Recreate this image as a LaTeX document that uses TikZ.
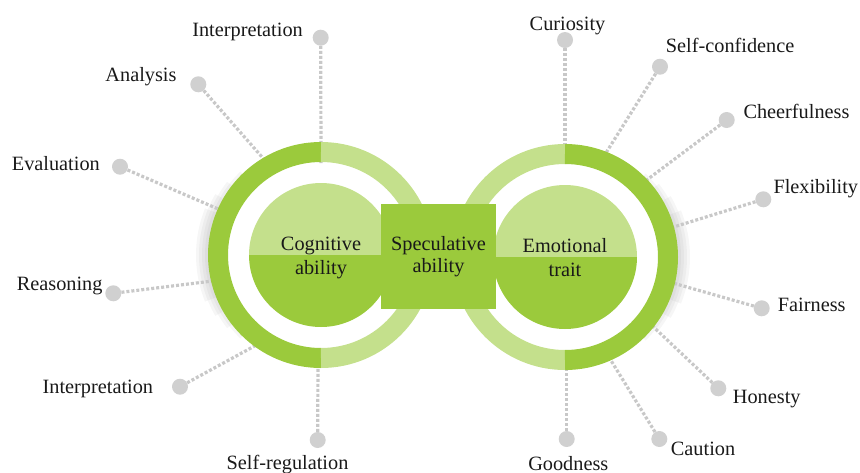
\documentclass[tikz,border=0pt]{standalone}
\usepackage{fontspec}
\setmainfont{Liberation Serif}
\definecolor{dark}{RGB}{155,202,60}
\definecolor{light}{RGB}{196,224,140}
\definecolor{dotgray}{RGB}{208,208,208}
\definecolor{linegray}{RGB}{200,200,200}
\definecolor{txt}{RGB}{25,25,25}
\begin{document}
\begin{tikzpicture}[x=1pt,y=-1pt,
  lbl/.style={inner sep=0pt, font=\fontsize{20.3pt}{24.4pt}\selectfont, text=txt},
  dot/.style={circle, fill=dotgray, minimum size=16pt, inner sep=0pt},
  spoke/.style={draw=linegray, line width=3.2pt, dash pattern=on 3pt off 2pt},
  halo/.style={black, opacity=0.035}]
\useasboundingbox (0,0) rectangle (860,472);

\coordinate (L) at (321,255);
\coordinate (R) at (565,257);

% soft shadows on the outer sides of the two rings
\foreach \w/\a in {6/46,12/38,18/30,24/22}{
  \draw[halo, line width=\w pt] ([shift={(L)}]180-\a:113) arc[start angle=180-\a, end angle=180+\a, radius=113];
  \draw[halo, line width=\w pt] ([shift={(R)}]-\a:113) arc[start angle=-\a, end angle=\a, radius=113];
}

% end points of the spokes (hidden under the rings)
\coordinate (eA1) at (321,163);
\coordinate (eA2) at (268.3,164.2);
\coordinate (eA3) at (225.9,212.3);
\coordinate (eA4) at (216.6,280.5);
\coordinate (eA5) at (262.1,341.9);
\coordinate (eA6) at (318,352);
\coordinate (eB1) at (565,155);
\coordinate (eB2) at (601.4,160.2);
\coordinate (eB3) at (638.7,186);
\coordinate (eB4) at (667.1,229);
\coordinate (eB5) at (670.4,282.3);
\coordinate (eB6) at (649.4,323.1);
\coordinate (eB7) at (606.5,353.2);
\coordinate (eB8) at (566.7,360);

% dots
\node[dot] (dA1) at (320.7,37.7) {};
\node[dot] (dA2) at (198.3,84.3) {};
\node[dot] (dA3) at (120,166.7) {};
\node[dot] (dA4) at (113.3,293.3) {};
\node[dot] (dA5) at (180,386.7) {};
\node[dot] (dA6) at (317.7,440) {};
\node[dot] (dB1) at (565,40) {};
\node[dot] (dB2) at (660,66.7) {};
\node[dot] (dB3) at (726.7,120) {};
\node[dot] (dB4) at (763.3,199.3) {};
\node[dot] (dB5) at (761.7,308.3) {};
\node[dot] (dB6) at (718.3,388.3) {};
\node[dot] (dB7) at (659.3,439) {};
\node[dot] (dB8) at (566.7,439) {};

% spokes
\foreach \n in {A1,A2,A3,A4,A5,A6,B1,B2,B3,B4,B5,B6,B7,B8}{
  \draw[spoke] (d\n) -- (e\n);
}

% left ring
\draw[dark, line width=20pt] ([shift={(L)}]90:103) arc[start angle=90, end angle=270, radius=103];
\draw[light, line width=20pt] ([shift={(L)}]270:103) arc[start angle=270, end angle=450, radius=103];
\fill[light] ([shift={(L)}]180:72) arc[start angle=180, end angle=360, radius=72] -- cycle;
\fill[dark] ([shift={(L)}]0:72) arc[start angle=0, end angle=180, radius=72] -- cycle;

% right ring
\draw[light, line width=20pt] ([shift={(R)}]90:103) arc[start angle=90, end angle=270, radius=103];
\draw[dark, line width=20pt] ([shift={(R)}]270:103) arc[start angle=270, end angle=450, radius=103];
\fill[light] ([shift={(R)}]180:72) arc[start angle=180, end angle=360, radius=72] -- cycle;
\fill[dark] ([shift={(R)}]0:72) arc[start angle=0, end angle=180, radius=72] -- cycle;

% centre texts
\node[lbl, align=center] (cog) at (321,258) {Cognitive\\ability};
\node[lbl, align=center] (emo) at (565,257.5) {Emotional\\trait};
\node[lbl, align=center, fill=dark, minimum width=115pt, minimum height=105pt] (spec) at (438.5,256.5) {Speculative\\[-2.7pt]ability};

% labels
\node[lbl, anchor=base east] (tA1) at (303,36.7) {Interpretation};
\node[lbl, anchor=base east] (tA2) at (176.7,81.7) {Analysis};
\node[lbl, anchor=base east] (tA3) at (100,170) {Evaluation};
\node[lbl, anchor=base east] (tA4) at (102.7,290) {Reasoning};
\node[lbl, anchor=base east] (tA5) at (153.3,393.3) {Interpretation};
\node[lbl, anchor=base] (tA6) at (287.5,469.3) {Self-regulation};
\node[lbl, anchor=base] (tB1) at (567.5,30.7) {Curiosity};
\node[lbl, anchor=base west] (tB2) at (665.7,52.3) {Self-confidence};
\node[lbl, anchor=base west] (tB3) at (743.3,118.3) {Cheerfulness};
\node[lbl, anchor=base west] (tB4) at (773.3,193.3) {Flexibility};
\node[lbl, anchor=base west] (tB5) at (777.7,311.7) {Fairness};
\node[lbl, anchor=base west] (tB6) at (732.7,403.3) {Honesty};
\node[lbl, anchor=base west] (tB7) at (670.7,455) {Caution};
\node[lbl, anchor=base] (tB8) at (568.3,470) {Goodness};
\end{tikzpicture}
\end{document}
